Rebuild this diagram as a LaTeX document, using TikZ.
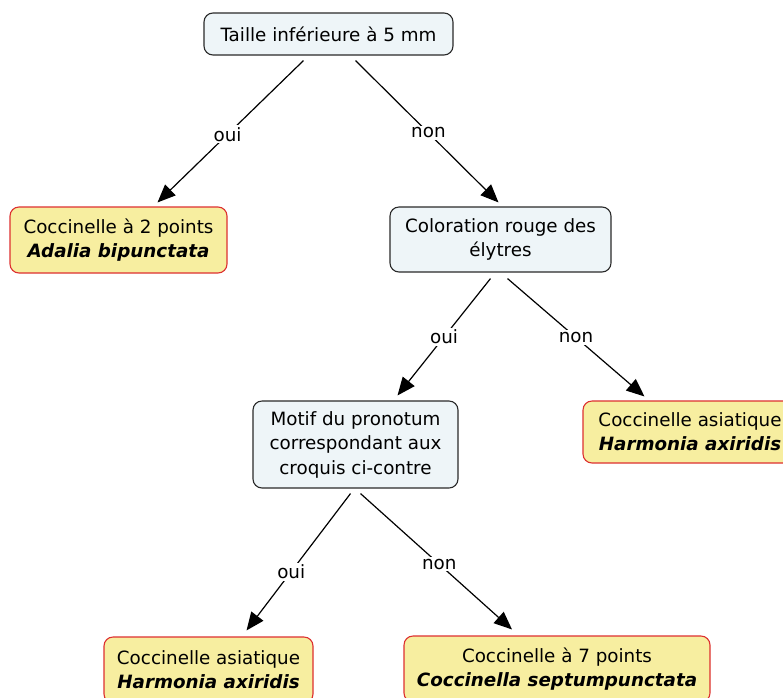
\documentclass[tikz,border=0pt]{standalone}
\usepackage{fontspec}
\setmainfont{DejaVu Sans}
\usetikzlibrary{arrows.meta}
\definecolor{qfill}{HTML}{EEF5F8}
\definecolor{qdraw}{HTML}{2A2A2A}
\definecolor{afill}{HTML}{F7EEA0}
\definecolor{adraw}{HTML}{DD3030}
\tikzset{
  question/.style={draw=qdraw, fill=qfill, line width=1.1pt, rounded corners=9pt, align=center, inner sep=0pt, font=\fontsize{18.3}{24.5}\selectfont},
  answer/.style={draw=adraw, fill=afill, line width=1.1pt, rounded corners=9pt, align=center, inner sep=0pt, font=\fontsize{18.3}{24}\selectfont},
  link/.style={line width=1.2pt, -{Triangle[length=18pt,width=15pt]}},
  lbl/.style={fill=white, inner sep=2pt, font=\fontsize{18.3}{20}\selectfont}
}
\newcommand{\sci}[1]{{\bfseries\itshape #1}}
\begin{document}
\begin{tikzpicture}[x=1pt,y=-1pt]
\useasboundingbox (0,0) rectangle (783,697);
\begin{scope}
\clip (0,0) rectangle (783,697);
\node[question, minimum width=249pt, minimum height=42pt] (top) at (328.5,34) {Taille inférieure à 5 mm};
\node[answer, minimum width=217pt, minimum height=66pt] (adalia) at (118.5,240) {Coccinelle à 2 points\\\sci{Adalia bipunctata}};
\node[question, minimum width=221pt, minimum height=65pt] (color) at (500.5,239.5) {Coloration rouge des\\élytres};
\node[answer, minimum width=214pt, minimum height=62pt] (hr) at (690,432) {Coccinelle asiatique\\\sci{Harmonia axiridis}};
\node[question, minimum width=205pt, minimum height=87pt] (motif) at (355.5,444.5) {Motif du pronotum\\correspondant aux\\croquis ci-contre};
\node[answer, minimum width=209pt, minimum height=66pt] (hb) at (208.5,670) {Coccinelle asiatique\\\sci{Harmonia axiridis}};
\node[answer, minimum width=306pt, minimum height=66pt] (cs) at (557,669) {Coccinelle à 7 points\\\sci{Coccinella septumpunctata}};
\end{scope}

\draw[link] ([xshift=-25pt,yshift=-5pt]top.south) -- node[lbl, pos=0.52] {oui} ([xshift=39pt,yshift=4pt]adalia.north);
\draw[link] ([xshift=27pt,yshift=-5pt]top.south) -- node[lbl, pos=0.51] {non} ([xshift=-2pt,yshift=4pt]color.north);
\draw[link] ([xshift=-10pt,yshift=-6pt]color.south) -- node[lbl, pos=0.5] {oui} ([xshift=42pt,yshift=5pt]motif.north);
\draw[link] ([xshift=7pt,yshift=-6pt]color.south) -- node[lbl, pos=0.5] {non} ([xshift=62pt,yshift=4pt]hr.north west);
\draw[link] ([xshift=-5pt,yshift=-5pt]motif.south) -- node[lbl, pos=0.57] {oui} ([xshift=38pt,yshift=6pt]hb.north);
\draw[link] ([xshift=5pt,yshift=-5pt]motif.south) -- node[lbl, pos=0.52] {non} ([xshift=-45pt,yshift=6pt]cs.north);
\end{tikzpicture}
\end{document}
